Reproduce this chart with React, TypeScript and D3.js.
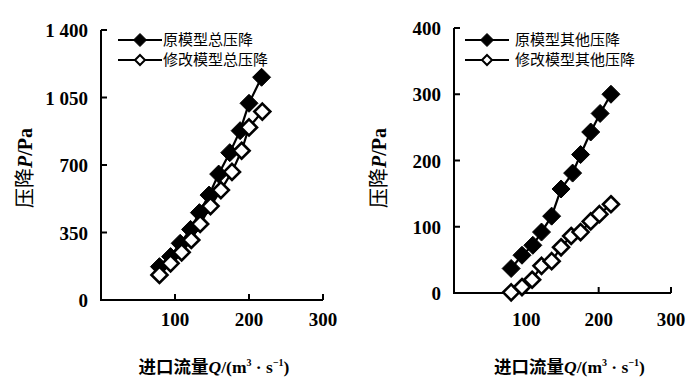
import React, { useEffect, useRef } from "react";
import * as d3 from "d3";

// 总压降 (left panel)
const totalFlowOrig = [79, 94, 107, 121, 133, 146, 159, 174, 188, 200, 217];
const totalDropOrig = [173, 225, 294, 366, 453, 544, 653, 764, 878, 1020, 1155];
const totalFlowMod = [79, 94, 109, 122, 134, 148, 162, 177, 190, 200, 218];
const totalDropMod = [130, 190, 247, 311, 394, 487, 570, 664, 774, 895, 977];

// 其他压降 (right panel)
const otherFlowOrig = [79, 94, 109, 121, 135, 148, 164, 175, 189, 202, 217];
const otherDropOrig = [37, 57, 72, 92, 116, 157, 181, 209, 243, 271, 300];
const otherFlowMod = [79, 94, 108, 121, 135, 148, 162, 175, 189, 201, 217];
const otherDropMod = [1, 9, 20, 41, 48, 69, 86, 92, 108, 119, 134];

const xTicks = [100, 200, 300];
const leftYTicks = [0, 350, 700, 1050, 1400];
const rightYTicks = [0, 100, 200, 300, 400];

const leftLegend = ["原模型总压降", "修改模型总压降"];
const rightLegend = ["原模型其他压降", "修改模型其他压降"];

const FONT = "'Liberation Serif', 'Noto Sans CJK SC', serif";
const CJK = "'Noto Sans CJK SC', sans-serif";

const fmt = (v: number) =>
  v >= 1000 ? `${Math.floor(v / 1000)} ${String(v % 1000).padStart(3, "0")}` : String(v);

const diamond = (r: number) => `M0,${-r}L${r},0L0,${r}L${-r},0Z`;

function drawPanel(g: any, cfg: any) {
  const x = d3.scaleLinear().domain([0, 300]).range([cfg.x0, cfg.x1]);
  const y = d3.scaleLinear().domain([0, cfg.yMax]).range([cfg.y0, cfg.y1]);

  // axes
  g.append("line").attr("x1", x(0)).attr("x2", x(0)).attr("y1", y(cfg.yMax)).attr("y2", y(0))
    .attr("stroke", "#000").attr("stroke-width", 2);
  g.append("line").attr("x1", x(0) - 1).attr("x2", x(300)).attr("y1", y(0)).attr("y2", y(0))
    .attr("stroke", "#000").attr("stroke-width", 2);

  g.selectAll(".xt").data(xTicks).join("line").attr("class", "xt")
    .attr("x1", (d: number) => x(d)).attr("x2", (d: number) => x(d))
    .attr("y1", y(0)).attr("y2", y(0) - 6).attr("stroke", "#000").attr("stroke-width", 2);
  g.selectAll(".xl").data(xTicks).join("text").attr("class", "xl")
    .attr("x", (d: number) => x(d)).attr("y", cfg.xLabelY).attr("text-anchor", "middle")
    .style("font-family", FONT).style("font-size", "19px").style("font-weight", "bold")
    .text((d: number) => d);

  g.selectAll(".yt").data(cfg.yTicks.slice(1)).join("line").attr("class", "yt")
    .attr("x1", x(0)).attr("x2", x(0) + 6)
    .attr("y1", (d: number) => y(d)).attr("y2", (d: number) => y(d))
    .attr("stroke", "#000").attr("stroke-width", 2);
  g.selectAll(".yl").data(cfg.yTicks).join("text").attr("class", "yl")
    .attr("x", x(0) - 13).attr("y", (d: number) => y(d) + 7).attr("text-anchor", "end")
    .style("font-family", FONT).style("font-size", "19px").style("font-weight", "bold")
    .text((d: number) => fmt(d));

  // axis titles
  const xt = g.append("text").attr("x", (cfg.x0 + cfg.x1) / 2 + cfg.xTitleShift).attr("y", 373)
    .attr("text-anchor", "middle").style("font-family", FONT)
    .style("font-size", "17.5px").style("font-weight", "bold");
  xt.append("tspan").style("font-family", CJK).text("进口流量");
  xt.append("tspan").style("font-style", "italic").text("Q");
  xt.append("tspan").text("/(m");
  xt.append("tspan").attr("dy", -7).style("font-size", "10px").text("3");
  xt.append("tspan").attr("dy", 7).text(" · s");
  xt.append("tspan").attr("dy", -7).style("font-size", "10px").text("−1");
  xt.append("tspan").attr("dy", 7).text(")");

  const yt = g.append("text")
    .attr("transform", `translate(${cfg.yTitleX},168) rotate(-90)`)
    .attr("text-anchor", "middle").style("font-family", FONT)
    .style("font-size", "20px").style("font-weight", "bold");
  yt.append("tspan").style("font-family", CJK).style("font-weight", "normal").text("压降");
  yt.append("tspan").style("font-style", "italic").text("P");
  yt.append("tspan").text("/Pa");

  // series
  const series = [
    { q: cfg.flowOrig, p: cfg.dropOrig, open: false },
    { q: cfg.flowMod, p: cfg.dropMod, open: true },
  ];
  series.forEach((s) => {
    const pts = s.q.map((q: number, i: number) => [x(q), y(s.p[i])] as [number, number]);
    g.append("path").attr("d", d3.line()(pts)).attr("fill", "none")
      .attr("stroke", "#000").attr("stroke-width", 2.2);
    g.selectAll(null).data(pts).join("path")
      .attr("transform", (d: [number, number]) => `translate(${d[0]},${d[1]})`)
      .attr("d", s.open ? diamond(8) : diamond(9))
      .attr("fill", s.open ? "#fff" : "#000").attr("stroke", "#000")
      .attr("stroke-width", s.open ? 2.6 : 1);
  });

  // legend
  cfg.legend.forEach((label: string, i: number) => {
    const ly = 40 + i * 20;
    g.append("line").attr("x1", cfg.legX).attr("x2", cfg.legX + 44).attr("y1", ly).attr("y2", ly)
      .attr("stroke", "#000").attr("stroke-width", 2.2);
    g.append("path").attr("transform", `translate(${cfg.legX + 22},${ly})`)
      .attr("d", i === 0 ? diamond(6.5) : diamond(5))
      .attr("fill", i === 0 ? "#000" : "#fff").attr("stroke", "#000").attr("stroke-width", i === 0 ? 1 : 2);
    g.append("text").attr("x", cfg.legText).attr("y", ly + 5)
      .style("font-family", CJK).style("font-size", "15px").text(label);
  });
}

export default function App() {
  const ref = useRef<SVGSVGElement>(null);

  useEffect(() => {
    const svg = d3.select(ref.current);
    svg.selectAll("*").remove();

    drawPanel(svg.append("g"), {
      x0: 101, x1: 323, y0: 300, y1: 30, yMax: 1400, yTicks: leftYTicks,
      xLabelY: 326, yTitleX: 32, xTitleShift: 2,
      flowOrig: totalFlowOrig, dropOrig: totalDropOrig,
      flowMod: totalFlowMod, dropMod: totalDropMod,
      legend: leftLegend, legX: 118, legText: 163,
    });
    drawPanel(svg.append("g"), {
      x0: 454, x1: 671, y0: 293, y1: 28, yMax: 400, yTicks: rightYTicks,
      xLabelY: 326, yTitleX: 386, xTitleShift: 7,
      flowOrig: otherFlowOrig, dropOrig: otherDropOrig,
      flowMod: otherFlowMod, dropMod: otherDropMod,
      legend: rightLegend, legX: 465, legText: 515,
    });
  }, []);

  return (
    <svg ref={ref} width={700} height={392}
      style={{ position: "absolute", left: 0, top: 0, background: "#fff" }} />
  );
}
